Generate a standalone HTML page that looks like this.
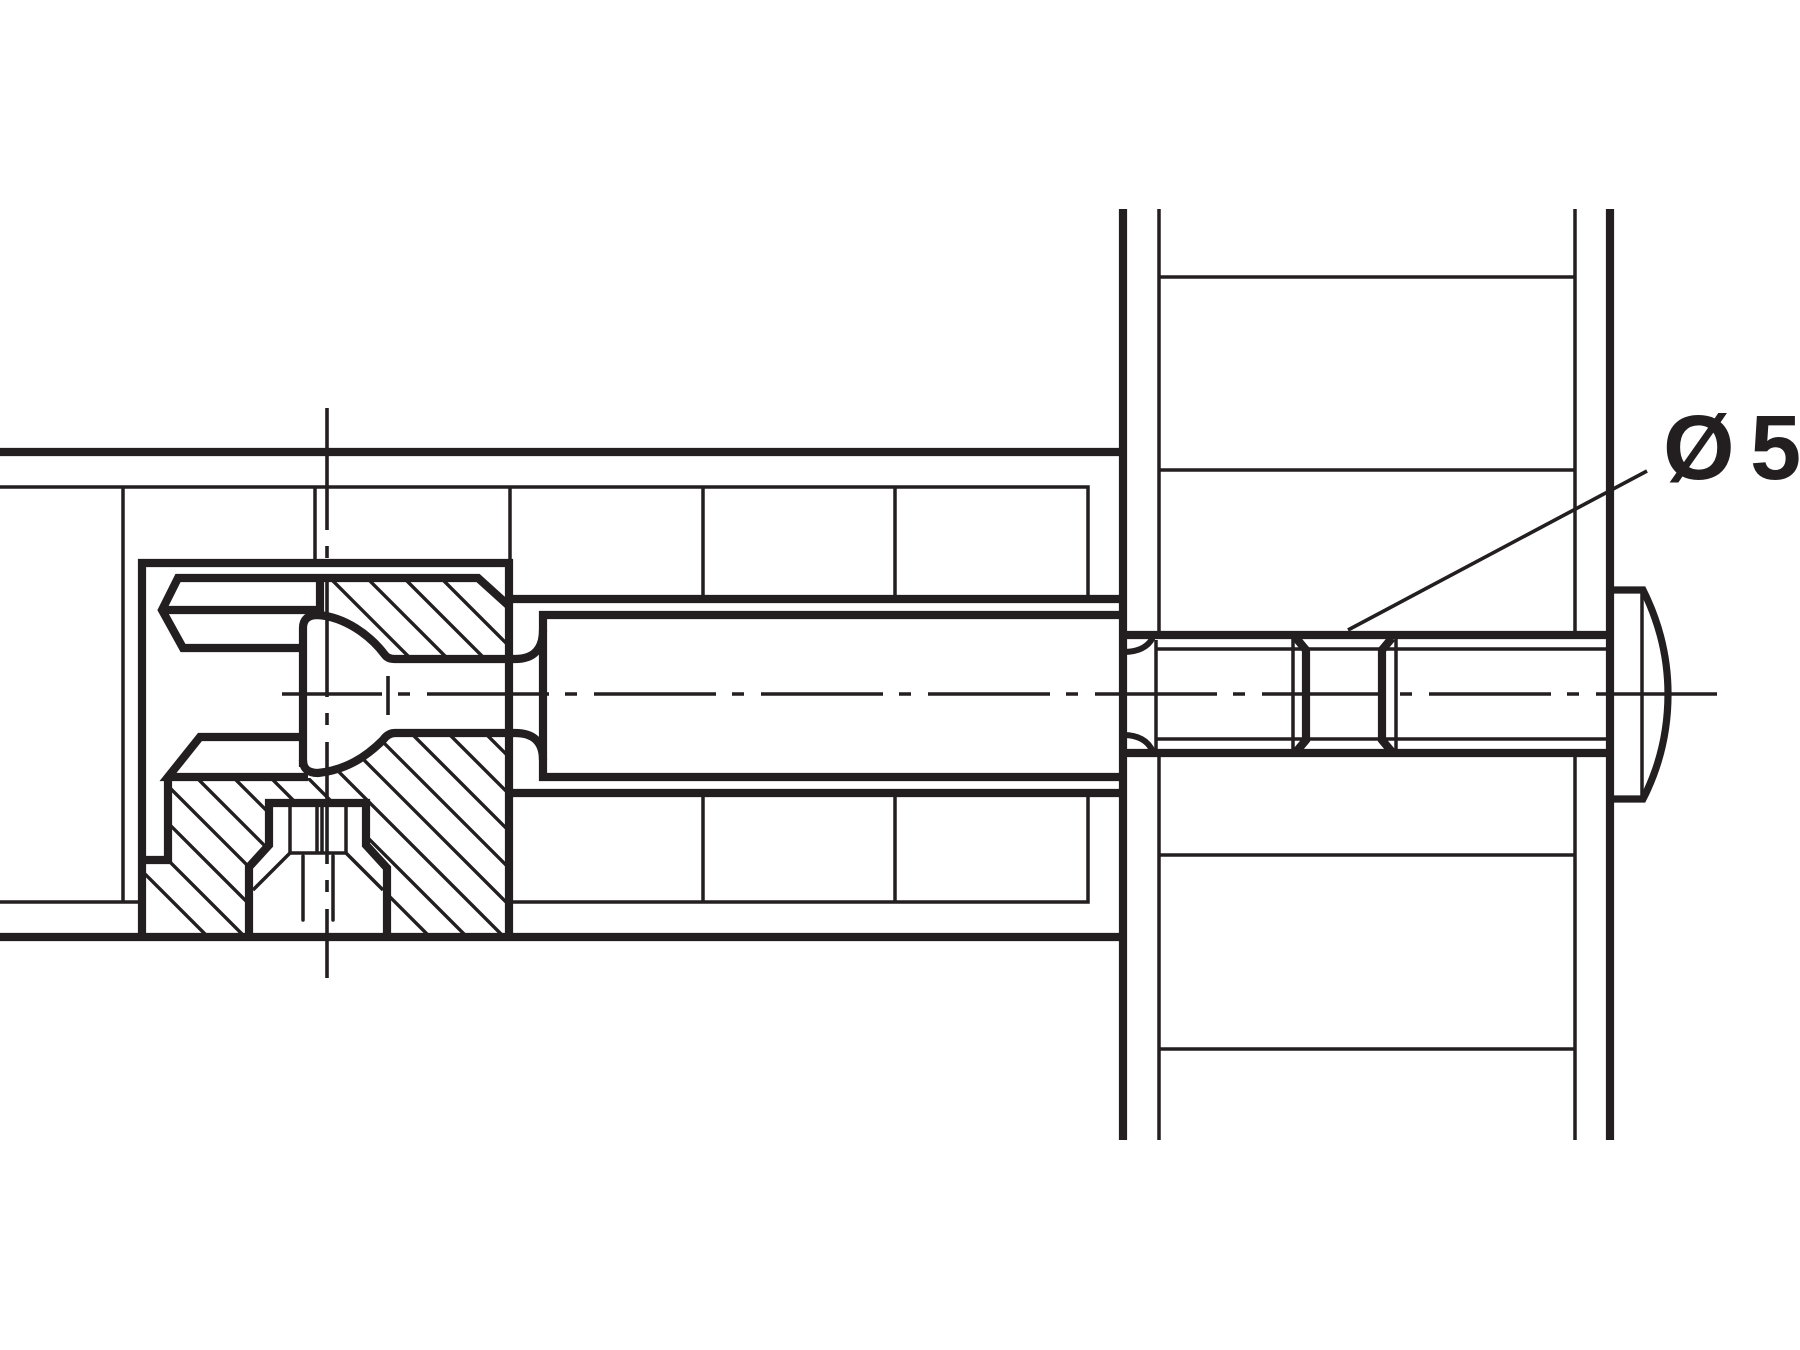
<!DOCTYPE html>
<html>
<head>
<meta charset="utf-8">
<style>
html,body{margin:0;padding:0;background:#fff;}
svg{display:block;}
</style>
</head>
<body>
<svg xmlns="http://www.w3.org/2000/svg" width="1800" height="1350" viewBox="0 0 1800 1350">
<rect width="1800" height="1350" fill="#fff"/>
<defs>
<clipPath id="h1"><path d="M318 578 H478 L509 606 V655 H385 C370 635 345 617 318 615 Z"/></clipPath>
<clipPath id="h2"><path d="M168 778 H317 C345 775 365 760 385 737 H509 V937 H390 V868 L368 845 V803 H267 V845 L249 867 V937 H142 V860 H168 Z"/></clipPath>
</defs>

<!-- hatching -->
<g stroke="#231f20" stroke-width="3.4" fill="none">
<g clip-path="url(#h1)">
<line x1="423" y1="560" x2="803" y2="940"/><line x1="386" y1="560" x2="766" y2="940"/><line x1="349" y1="560" x2="729" y2="940"/><line x1="312" y1="560" x2="692" y2="940"/>
</g>
<g clip-path="url(#h2)">
<line x1="312" y1="560" x2="692" y2="940"/><line x1="275" y1="560" x2="655" y2="940"/><line x1="238" y1="560" x2="618" y2="940"/><line x1="201" y1="560" x2="581" y2="940"/><line x1="164" y1="560" x2="544" y2="940"/><line x1="127" y1="560" x2="507" y2="940"/><line x1="90" y1="560" x2="470" y2="940"/><line x1="53" y1="560" x2="433" y2="940"/><line x1="16" y1="560" x2="396" y2="940"/><line x1="-21" y1="560" x2="359" y2="940"/><line x1="-58" y1="560" x2="322" y2="940"/><line x1="-95" y1="560" x2="285" y2="940"/><line x1="-132" y1="560" x2="248" y2="940"/><line x1="-169" y1="560" x2="211" y2="940"/>
</g>
</g>

<!-- thin lines -->
<g stroke="#231f20" stroke-width="3.5" fill="none">
<path d="M0 487 H1088 V598"/>
<path d="M123 487 V902 M0 902 H138"/>
<path d="M315 487 V563 M510 487 V563 M703 487 V598 M895 487 V598"/>
<path d="M513 902 H1088 V794 M703 794 V902 M895 794 V902"/>
<!-- right panel -->
<path d="M1159 209 V633 M1159 756 V1140 M1575 209 V633 M1575 756 V1140"/>
<path d="M1159 277 H1575 M1159 470 H1575 M1159 855 H1575 M1159 1049 H1575"/>
<!-- shaft -->
<path d="M1156 649 H1610 M1156 739 H1610 M1156 640 V752"/>
<path d="M1293 638 V752 M1396 638 V752"/>
<path d="M1642 590 V799"/>
<!-- socket thin -->
<path d="M290 803 V853 M317 803 V853 M322 803 V853 M346 803 V853 M290 853 H346"/>
<path d="M290 853 L253 890 M346 853 L383 890"/>
<path d="M303 856 V920 M333 856 V920" stroke-linecap="round"/>
<!-- leader -->
<path d="M1348 630 L1647 471" stroke-width="3.6"/>
<!-- small tick -->
<path d="M388 676 V715" stroke-width="3.6"/>
<!-- centre lines -->
<path d="M282 694 H1717" stroke-width="3.6" stroke-dasharray="122 16 12 17" stroke-dashoffset="22"/>
<path d="M327 408 V978" stroke-width="3.6" stroke-dasharray="122 16 12 17"/>
</g>

<!-- thick lines -->
<g stroke="#231f20" stroke-width="8.2" fill="none" stroke-linejoin="miter">
<path d="M0 452 H1120"/>
<path d="M0 937 H1120"/>
<path d="M142 937 V563 H509 V937"/>
<path d="M509 599 H1120 M509 793 H1120"/>
<path d="M1120 615 H543 V777 H1120"/>
<!-- top part of cam -->
<path d="M320 578 H178 L162 610 L183 648 H303"/>
<path d="M320 578 H478 L509 606"/>
<path d="M162 610 H317"/>
<path d="M320 578 V612"/>
<!-- cam head -->
<path d="M303 767 V628 Q303 615 318 615 C345 617 370 635 385 655 Q388 659 395 659 H515 Q543 659 543 630"/>
<path d="M303 737 H200 L168 777 H308"/>
<path d="M303 760 Q303 773 318 773 C345 770 365 758 383 740 Q388 733 395 733 H515 Q543 733 543 760"/>
<path d="M168 777 V860 H142"/>
<!-- socket -->
<path d="M249 937 V867 L269 845 V803 H366 V845 L387 868 V937"/>
<!-- right panel -->
<path d="M1123 209 V1140 M1610 209 V1140"/>
<path d="M1123 635 H1610 M1123 753 H1610"/>
<!-- groove -->
<path d="M1296 638 L1306 650 V740 L1296 752"/>
<path d="M1392 638 L1382 650 V740 L1392 752"/>
<!-- head -->
<path d="M1610 590 H1643 Q1668 640 1668 694 Q1668 750 1643 799 H1610" stroke-width="7.2"/>
</g>
<g stroke="#231f20" stroke-width="6" fill="none">
<path d="M1123 652 Q1146 652 1153 637"/>
<path d="M1123 735 Q1146 735 1153 752"/>
</g>

<!-- label -->
<text x="1663" y="479" font-family="'Liberation Sans',sans-serif" font-weight="700" font-size="92" fill="#231f20">Ø</text>
<text x="1750" y="479" font-family="'Liberation Sans',sans-serif" font-weight="700" font-size="92" fill="#231f20">5</text>
</svg>
</body>
</html>
